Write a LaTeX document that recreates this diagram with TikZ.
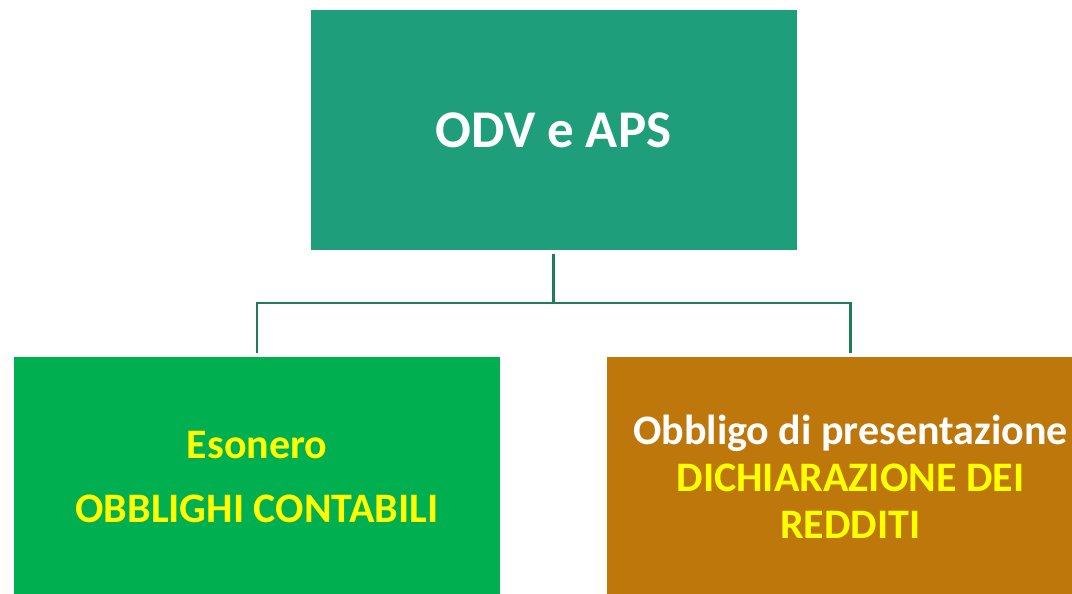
\documentclass[tikz,border=0pt]{standalone}
\usepackage{fontspec}
\setmainfont{Carlito}
\usetikzlibrary{positioning}
\definecolor{odvteal}{HTML}{1F9E7C}
\definecolor{esgreen}{HTML}{00B050}
\definecolor{obgold}{HTML}{BE770A}
\definecolor{linkteal}{HTML}{1E7B5C}
\definecolor{txtyellow}{HTML}{FFFF00}

\begin{document}
\begin{tikzpicture}[x=1pt,y=-1pt,
    main/.style = {rectangle, minimum width=486pt, minimum height=240pt, inner sep=0pt, align=center, font=\bfseries},
    link/.style = {draw=linkteal, line width=2.5pt}]
      \useasboundingbox (0,0) rectangle (1072,594);
      \node[main, fill=odvteal, text=white, font=\bfseries\fontsize{53}{60}\selectfont] at (553.5,130) (odv){ODV e APS};
      \node[main, fill=esgreen, text=txtyellow, font=\bfseries\fontsize{42}{47}\selectfont] at (257,477) (eso){Esonero\\[17pt]OBBLIGHI CONTABILI};
      \node[main, fill=obgold, font=\bfseries\fontsize{42}{47}\selectfont, right=107pt of eso] (obb){\textcolor{white}{Obbligo di presentazione}\\ \textcolor{txtyellow}{DICHIARAZIONE DEI}\\ \textcolor{txtyellow}{REDDITI}};
      \coordinate (fork) at (553.5,303);

      \path[link]
      (odv.south) edge[shorten <=4pt] (fork);
      \draw[link, shorten >=4pt] (fork) -| (eso.north);
      \draw[link, shorten >=4pt] (fork) -| (obb.north);
    \end{tikzpicture}
\end{document}
